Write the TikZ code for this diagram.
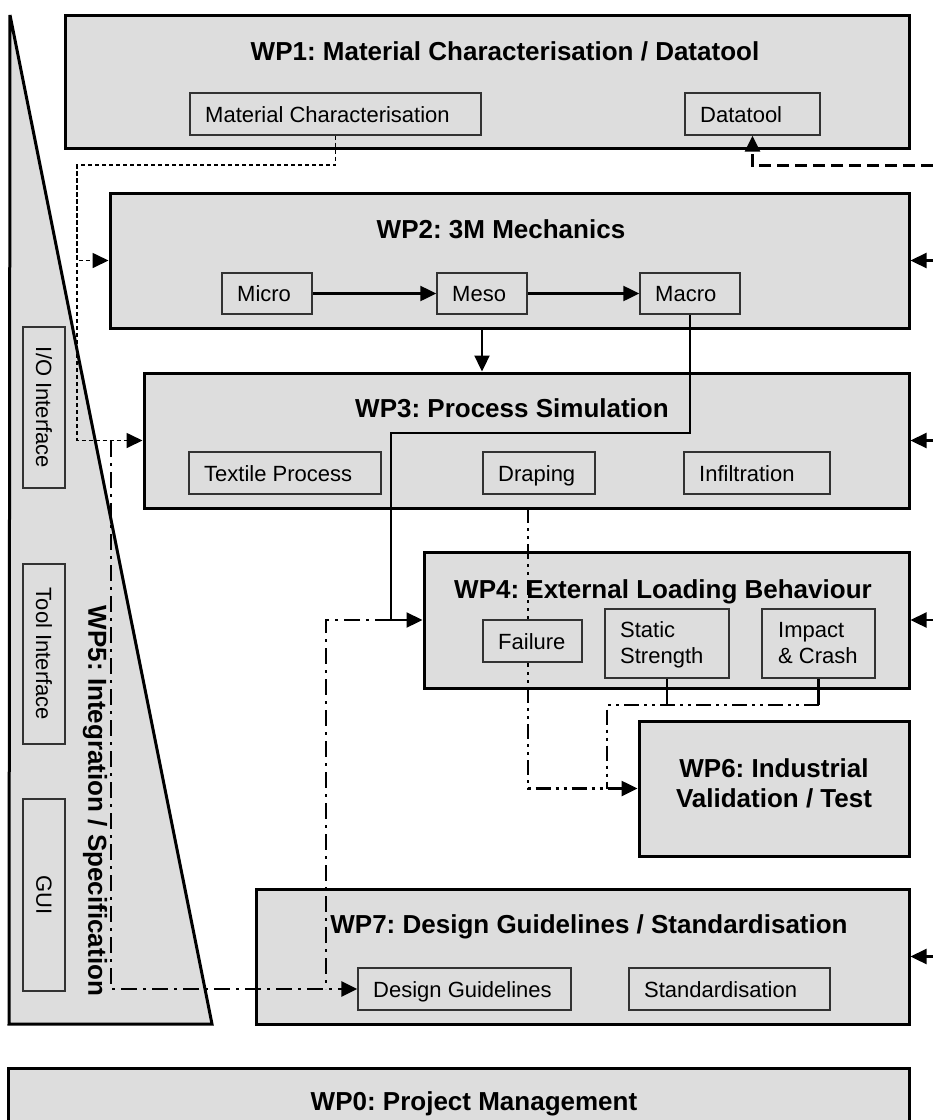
\documentclass[tikz,border=0pt]{standalone}
\usepackage{fontspec}
\setmainfont{Liberation Sans}
\usetikzlibrary{arrows.meta}
\definecolor{boxgray}{RGB}{221,221,221}
\definecolor{subline}{RGB}{50,50,50}
\pgfdeclarelayer{bg}
\pgfdeclarelayer{mid}
\pgfsetlayers{bg,mid,main}
\frenchspacing
\tikzset{
  wpbox/.style={draw=black, line width=3pt, fill=boxgray, inner sep=0pt},
  subbox/.style={draw=subline, line width=1.4pt, fill=boxgray, inner sep=0pt},
  subtext/.style={inner sep=0pt, font=\fontsize{22}{26}\selectfont, align=left},
  wptitle/.style={inner sep=0pt, font=\fontsize{26}{30}\selectfont\bfseries, align=center},
  arr/.style={-{Triangle[length=16pt,width=15pt]}},
  conn/.style={line width=2.3pt},
  finedash/.style={line width=1.7pt, dash pattern=on 4pt off 3pt},
  bigdash/.style={line width=3pt, dash pattern=on 12pt off 6pt},
  dashdot/.style={line width=2.6pt, dash pattern=on 16pt off 6pt on 3pt off 6pt},
  dashdotdot/.style={line width=2.6pt, dash pattern=on 15pt off 5pt on 3pt off 5pt on 3pt off 5pt},
}
\newcommand\mkbox[6]{% style, name, x1, y1, x2, y2
  \node[#1, minimum width={#5-#3}, minimum height={#6-#4}] (#2) at ({(#3+#5)/2},{(#4+#6)/2}) {};}
\newcommand\mksub[6]{% name, x1, y1, x2, y2, text
  \mkbox{subbox}{#1}{#2}{#3}{#4}{#5}
  \node[subtext, anchor=base west] (#1t) at ({#2+15},{(#3+#5)/2+8}) {#6};}
\begin{document}
\begin{tikzpicture}[x=1pt,y=-1pt]
\useasboundingbox (0,0) rectangle (933,1120);
\clip (0,0) rectangle (933,1120);
\begin{pgfonlayer}{bg}
  % WP5 wedge
  \draw[wpbox] (10,15) -- (212,1024) -- (9,1024) -- cycle;
  \node[wptitle, rotate=-90] (t5) at (95,801) {WP5: Integration / Specification};
  % work packages
  \mkbox{wpbox}{wp1}{65}{15}{909}{148}
  \mkbox{wpbox}{wp2}{110}{193}{909}{328}
  \mkbox{wpbox}{wp3}{144}{373}{909}{508}
  \mkbox{wpbox}{wp4}{424}{552}{909}{688}
  \mkbox{wpbox}{wp6}{639}{721}{909}{856}
  \mkbox{wpbox}{wp7}{256}{889}{909}{1024}
  \mkbox{wpbox}{wp0}{8}{1068}{909}{1200}
  \node[wptitle, anchor=base] (t1) at (505,60) {WP1: Material Characterisation / Datatool};
  \node[wptitle, anchor=base] (t2) at (501,238) {WP2: 3M Mechanics};
  \node[wptitle, anchor=base] (t3) at (512,417) {WP3: Process Simulation};
  \node[wptitle, anchor=base] (t4) at (663,598) {WP4: External Loading Behaviour};
  \node[wptitle] (t6) at (774,783) {WP6: Industrial\\Validation / Test};
  \node[wptitle, anchor=base] (t7) at (589,933) {WP7: Design Guidelines / Standardisation};
  \node[wptitle, anchor=base] (t0) at (474,1110) {WP0: Project Management};
\end{pgfonlayer}
% sub boxes (top layer)
\mkbox{subbox}{io}{23}{327}{65}{488}
\node[subtext, rotate=-90] (iot) at (io.center) {I/O Interface};
\mkbox{subbox}{ti}{23}{564}{65}{744}
\node[subtext, rotate=-90] (tit) at (ti.center) {Tool Interface};
\mkbox{subbox}{gui}{23}{799}{65}{991}
\node[subtext, rotate=-90] (guit) at (gui.center) {GUI};
\mksub{mc}{190}{93}{481}{135}{Material Characterisation}
\mksub{dt}{685}{93}{820}{135}{Datatool}
\mksub{micro}{222}{273}{312}{314}{Micro}
\mksub{meso}{437}{273}{527}{314}{Meso}
\mksub{macro}{640}{273}{740}{314}{Macro}
\mksub{tp}{189}{452}{381}{494}{Textile Process}
\mksub{dr}{483}{452}{595}{494}{Draping}
\mksub{inf}{684}{452}{830}{494}{Infiltration}
\mksub{fail}{483}{620}{582}{662}{Failure}
\mkbox{subbox}{ss}{605}{609}{729}{678}
\node[subtext, anchor=west] (sst) at (620,645) {Static\\Strength};
\mkbox{subbox}{ic}{762}{609}{875}{678}
\node[subtext, anchor=west] (ict) at (778,643) {Impact\\\&~Crash};
\mksub{dg}{358}{968}{571}{1010}{Design Guidelines}
\mksub{std}{629}{968}{830}{1010}{Standardisation}
% connectors
\begin{pgfonlayer}{mid}
  \coordinate (dl) at (77,165);
  \draw[finedash, arr] (mc.south) |- (dl) |- (wp2.west);
  \draw[finedash, arr] (dl) |- (wp3.west);
  \coordinate (rdt) at (933,165);
  \draw[bigdash, arr] (rdt) -| (dt.south);
  \draw[conn, arr] (micro) -- (meso);
  \draw[conn, arr] (meso) -- (macro);
  \draw[conn, arr] (wp2.south -| meso.south) -- (wp3.north -| meso.south);
  \coordinate (mk) at (391,433);
  \draw[conn, arr] (macro.south) |- (mk) |- (wp4.west);
  \coordinate (w5) at (111,441);
  \draw[dashdot, arr] (w5) |- (dg.west);
  \coordinate (jj) at (326,620);
  \draw[dashdot] (jj -| mk) -- (jj) -- (jj |- dg.west);
  \coordinate (drl) at (528,508);
  \draw[dashdotdot, arr] (drl) |- (wp6.west);
  \coordinate (sj) at (607,705);
  \draw[conn] (ss.south) -- (ss.south |- sj);
  \draw[conn] (ic.south) -- (ic.south |- sj);
  \draw[dashdotdot] (ic.south |- sj) -- (sj) -- (sj |- wp6.west);
  \coordinate (R) at (933,0);
  \foreach \b in {wp2,wp3,wp4,wp7} \draw[conn, arr] (R |- \b.east) -- (\b.east);
\end{pgfonlayer}
\end{tikzpicture}
\end{document}
